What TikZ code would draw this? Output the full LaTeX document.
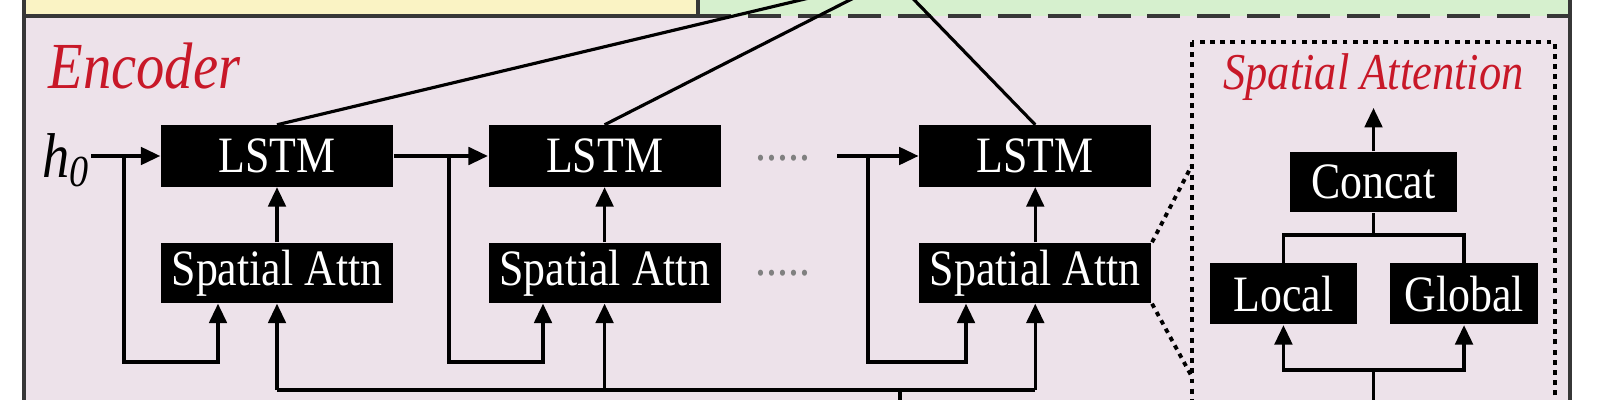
\documentclass[tikz,border=0pt]{standalone}
\usepackage{fontspec}
\setmainfont{Liberation Serif}
\newfontfamily\figfont[FakeStretch=0.86]{Liberation Serif}
\usetikzlibrary{positioning,arrows.meta,calc}

\definecolor{encpink}{RGB}{237,226,234}
\definecolor{topyellow}{RGB}{250,243,196}
\definecolor{decgreen}{RGB}{214,240,206}
\definecolor{labred}{RGB}{200,24,40}
\definecolor{framegray}{RGB}{55,55,55}

\begin{document}
\begin{tikzpicture}[x=0.01cm, y=-0.01cm,
  every node/.style={font=\figfont},
  blk/.style={rectangle, fill=black, text=white, inner sep=0pt,
              minimum width=2.32cm, minimum height=0.61cm,
              font=\figfont\fontsize{14.5}{16}\selectfont},
  labtext/.style={text=labred, inner sep=0pt},
  arr/.style={-{Triangle[length=5.5pt,width=5pt]}, line width=0.9pt},
  conn/.style={line width=0.9pt},
  dotbox/.style={line width=1.3pt, dash pattern=on 1.4pt off 1.5pt},
  dotline/.style={line width=1.1pt, dash pattern=on 1.3pt off 1.4pt}
]

% frame and background
\useasboundingbox (0,0) rectangle (1600,400);
\clip (0,0) rectangle (1600,400);
\fill[white] (0,0) rectangle (1600,400);
\fill[encpink] (24,16) rectangle (1570,440);
\fill[topyellow] (24,-40) rectangle (698,16);
\fill[decgreen] (698,-40) rectangle (1570,16);
\draw[framegray, line width=1.2pt] (24,16) -- (698,16) -- (698,-40);
\draw[framegray, line width=1.4pt, dash pattern=on 9.4pt off 4.8pt] (698,16) -- (1570,16);
\draw[framegray, line width=1.2pt] (24,-40) -- (24,440) (1570,-40) -- (1570,440);

\node[labtext, anchor=base west, font=\figfont\itshape\fontsize{18.7}{20}\selectfont] (enc) at (48,88) {Encoder};

% encoder cells
\node[blk] (lstm1) at (277,156) {LSTM};
\node[blk, right=0.94cm of lstm1] (lstm2) {LSTM};
\node[blk, right=1.97cm of lstm2] (lstm3) {LSTM};
\node[blk, below=0.55cm of lstm1, minimum height=0.60cm] (sa1) {Spatial Attn};
\node[blk, below=0.55cm of lstm2, minimum height=0.60cm] (sa2) {Spatial Attn};
\node[blk, below=0.55cm of lstm3, minimum height=0.60cm] (sa3) {Spatial Attn};
\node[text=gray, anchor=base, font=\figfont\fontsize{14.5}{16}\selectfont] (dots1) at (783,160) {.....};
\node[text=gray, anchor=base, font=\figfont\fontsize{14.5}{16}\selectfont] (dots2) at (783,275) {.....};

\node[anchor=east, inner sep=0pt, font=\figfont\itshape\fontsize{18}{20}\selectfont] (h0) at (91,160) {h\textsubscript{0}};

\coordinate (j1) at (124,156);
\coordinate (j2) at (449,156);
\coordinate (j3) at (868,156);
\coordinate (in3) at (837,156);
\coordinate (l1) at (218,362);
\coordinate (l2) at (543,362);
\coordinate (l3) at (966,362);
\coordinate (bus) at (900,390);
\coordinate (busin) at (900,420);
\coordinate (dec) at (893,-22);

\draw[arr] (h0.east |- lstm1.west) -- (lstm1);
\draw[arr] (lstm1) -- (lstm2);
\draw[arr] (in3) -- (lstm3);
\draw[arr] (j1) |- (l1) -- (l1 |- sa1.south);
\draw[arr] (j2) |- (l2) -- (l2 |- sa2.south);
\draw[arr] (j3) |- (l3) -- (l3 |- sa3.south);
\foreach \n in {1,2,3} {
  \draw[arr] (sa\n) -- (lstm\n);
  \draw[arr] (sa\n.south |- bus) -- (sa\n.south);
  \draw[conn] (lstm\n.north) -- (dec);
}
\draw[conn] (sa1.south |- bus) -- (sa3.south |- bus);
\draw[conn] (bus) -- (busin);

% spatial attention detail
\draw[dotbox] (1192,42) rectangle (1555,440);
\coordinate (zt) at (1192,165);
\coordinate (zb) at (1192,377);
\draw[dotline] (sa3.north east) -- (zt);
\draw[dotline] (sa3.south east) -- (zb);

\node[labtext, anchor=base, font=\figfont\itshape\fontsize{14.7}{16}\selectfont] (satitle) at (1373.5,90) {Spatial Attention};

\node[blk, minimum width=1.67cm, minimum height=0.60cm] (concat) at (1373.5,182) {Concat};
\node[blk, minimum width=1.47cm, below=0.5cm of concat, xshift=-0.9cm] (local) {Local};
\node[blk, minimum width=1.48cm, below=0.5cm of concat, xshift=0.905cm] (global) {Global};

\coordinate (saout) at (1373.5,108);
\coordinate (cj) at (1373.5,235);
\coordinate (bj) at (1373.5,370);
\coordinate (bjin) at (1373.5,420);

\draw[arr] (concat) -- (saout);
\draw[conn] (local.north) |- (cj) -| (global.north);
\draw[conn] (cj) -- (concat);
\draw[arr] (bj) -| (local.south);
\draw[arr] (bj) -| (global.south);
\draw[conn] (bj) -- (bjin);

\end{tikzpicture}
\end{document}
